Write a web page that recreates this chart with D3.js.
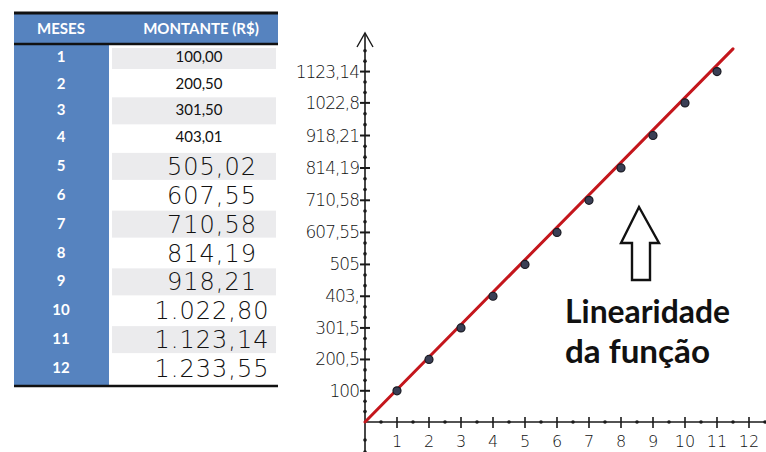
<!DOCTYPE html>
<html>
<head>
<meta charset="utf-8">
<script src="https://d3js.org/d3.v7.min.js"></script>
<style>
  body { margin: 0; background: #fff; }
  svg { display: block; }
</style>
</head>
<body>
<script>
// table data: months and amounts (R$)
const meses = [1, 2, 3, 4, 5, 6, 7, 8, 9, 10, 11, 12];
const montante = [100.00, 200.50, 301.50, 403.01, 505.02, 607.55, 710.58, 814.19, 918.21, 1022.80, 1123.14, 1233.55];
// the way each amount is written in the table (first 4 typed, rest handwritten)
const montanteTexto = ["100,00", "200,50", "301,50", "403,01", "505,02", "607,55", "710,58", "814,19", "918,21", "1.022,80", "1.123,14", "1.233,55"];
const digitados = 4;

// graph: y tick values and their handwritten labels
const yTicks = [100, 200.5, 301.5, 403.01, 505.02, 607.55, 710.58, 814.19, 918.21, 1022.8, 1123.14];
const yTickLabels = ["100", "200,5", "301,5", "403,", "505", "607,55", "710,58", "814,19", "918,21", "1022,8", "1123,14"];
const xTicks = [1, 2, 3, 4, 5, 6, 7, 8, 9, 10, 11, 12];
// plotted points: months 1..11
const pontosMes = [1, 2, 3, 4, 5, 6, 7, 8, 9, 10, 11];
// red trend line (from origin)
const retaMes = [0, 11.5];
const retaValor = [0, 1196];

const W = 766, H = 452;
const svg = d3.select("body").append("svg")
  .attr("width", W).attr("height", H);

// ---------- TABLE ----------
const tLeft = 14, tRight = 278, colSplit = 109, headTop = 13, headBottom = 44, tBottom = 386;
const rowY = d3.scaleLinear().domain([1, 4, 12]).range([57, 137, 368]);
const table = svg.append("g");

// blue months column + header
table.append("rect")
  .attr("x", tLeft).attr("y", headTop)
  .attr("width", colSplit - tLeft).attr("height", tBottom - headTop)
  .attr("fill", "#5683bf");
table.append("rect")
  .attr("x", tLeft).attr("y", headTop)
  .attr("width", tRight - tLeft).attr("height", headBottom - headTop)
  .attr("fill", "#5683bf");

// grey stripes on odd rows
table.selectAll("rect.stripe")
  .data(meses.filter(d => d % 2 === 1))
  .enter().append("rect")
  .attr("class", "stripe")
  .attr("x", colSplit + 3).attr("width", tRight - colSplit - 5)
  .attr("y", d => Math.max(headBottom + 4, rowY(d) - 13))
  .attr("height", d => rowY(d) - 13 < headBottom + 4 ? rowY(d) + 12 - (headBottom + 4) : 27)
  .attr("fill", "#ebebed");

// black rules
table.append("line").attr("x1", tLeft).attr("x2", tRight).attr("y1", headTop).attr("y2", headTop)
  .attr("stroke", "#111").attr("stroke-width", 3);
table.append("line").attr("x1", tLeft).attr("x2", tRight).attr("y1", headBottom).attr("y2", headBottom)
  .attr("stroke", "#111").attr("stroke-width", 2.5);
table.append("line").attr("x1", tLeft).attr("x2", tRight).attr("y1", tBottom).attr("y2", tBottom)
  .attr("stroke", "#111").attr("stroke-width", 2.5);

// header text
table.append("text").attr("x", 61).attr("y", 34).attr("text-anchor", "middle")
  .style("font", "bold 15px Lato, 'Open Sans', sans-serif").attr("fill", "#fff")
  .text("MESES");
table.append("text").attr("x", 201).attr("y", 34).attr("text-anchor", "middle")
  .style("font", "bold 15px Lato, 'Open Sans', sans-serif").attr("fill", "#fff")
  .text("MONTANTE (R$)");

// month numbers
table.selectAll("text.mes")
  .data(meses)
  .enter().append("text")
  .attr("class", "mes")
  .attr("x", 61).attr("y", d => rowY(d) + 5)
  .attr("text-anchor", "middle")
  .style("font", "bold 15px Lato, 'Open Sans', sans-serif")
  .attr("fill", "#fff")
  .text(d => d);

// amounts
table.selectAll("text.valor")
  .data(meses)
  .enter().append("text")
  .attr("class", "valor")
  .attr("x", (d, i) => i < digitados ? 199 : 212)
  .attr("y", (d, i) => rowY(d) + (i < digitados ? 5 : 9))
  .attr("text-anchor", "middle")
  .style("font-family", (d, i) => i < digitados ? "Lato, 'Open Sans', sans-serif" : "'DejaVu Sans', sans-serif")
  .style("font-size", (d, i) => i < digitados ? "15px" : "24px")
  .style("font-weight", (d, i) => i < digitados ? "normal" : "300")
  .style("letter-spacing", (d, i) => i < digitados ? "0px" : "1px")
  .attr("fill", "#111")
  .text((d, i) => montanteTexto[i]);

// ---------- GRAPH ----------
const x = d3.scaleLinear().domain([0, 12]).range([365, 749]);
const y = d3.scaleLinear().domain([0, 1250]).range([422, 32]);
const g = svg.append("g");
const ink = "#1a1a1a";

// y axis line with arrow
g.append("line").attr("x1", x(0)).attr("x2", x(0)).attr("y1", 33).attr("y2", H)
  .attr("stroke", ink).attr("stroke-width", 1.6);
g.append("path")
  .attr("d", `M${x(0) - 8},47 L${x(0)},33 L${x(0) + 8},47`)
  .attr("fill", "none").attr("stroke", ink).attr("stroke-width", 1.4);

// x axis line
g.append("line").attr("x1", x(0)).attr("x2", W).attr("y1", y(0)).attr("y2", y(0))
  .attr("stroke", ink).attr("stroke-width", 1.6);

// y major ticks and labels
g.selectAll("line.ytick").data(yTicks).enter().append("line")
  .attr("class", "ytick")
  .attr("x1", x(0) - 5).attr("x2", x(0) + 5)
  .attr("y1", d => y(d)).attr("y2", d => y(d))
  .attr("stroke", ink).attr("stroke-width", 2);
g.selectAll("text.ylab").data(yTicks).enter().append("text")
  .attr("class", "ylab")
  .attr("x", x(0) - 6).attr("y", d => y(d) + 6)
  .attr("text-anchor", "end")
  .style("font", "300 17px 'DejaVu Sans', sans-serif")
  .style("letter-spacing", "-1px")
  .attr("fill", "#111")
  .text((d, i) => yTickLabels[i]);

// y minor dots: thirds between ticks (including origin and beyond last tick)
const yStops = [0].concat(yTicks);
const yDots = [];
for (let i = 0; i < yStops.length - 1; i++) {
  const a = y(yStops[i]), b = y(yStops[i + 1]);
  yDots.push(a + (b - a) / 3, a + 2 * (b - a) / 3);
}
const lastStep = y(yTicks[yTicks.length - 1]) - y(yTicks[yTicks.length - 2]);
yDots.push(y(yTicks[yTicks.length - 1]) + lastStep / 3, y(yTicks[yTicks.length - 1]) + 2 * lastStep / 3);
yDots.push(y(0) + 18, y(0) + 30);
g.selectAll("circle.ydot").data(yDots).enter().append("circle")
  .attr("class", "ydot")
  .attr("cx", x(0)).attr("cy", d => d).attr("r", 1.8).attr("fill", ink);

// x major ticks, minor dots and labels
g.selectAll("line.xtick").data(xTicks).enter().append("line")
  .attr("class", "xtick")
  .attr("x1", d => x(d)).attr("x2", d => x(d))
  .attr("y1", y(0) - 5).attr("y2", y(0) + 6)
  .attr("stroke", ink).attr("stroke-width", 1.6);
g.selectAll("circle.xdot").data(xTicks.map(d => d - 0.5).concat([12.5])).enter().append("circle")
  .attr("class", "xdot")
  .attr("cx", d => x(d)).attr("cy", y(0)).attr("r", 1.8).attr("fill", ink);
g.selectAll("text.xlab").data(xTicks).enter().append("text")
  .attr("class", "xlab")
  .attr("x", d => x(d)).attr("y", 447)
  .attr("text-anchor", "middle")
  .style("font", "300 16px 'DejaVu Sans', sans-serif")
  .attr("fill", "#111")
  .text(d => d);

// red line
const reta = retaMes.map((m, i) => [m, retaValor[i]]);
g.append("path")
  .datum(reta)
  .attr("d", d3.line().x(d => x(d[0])).y(d => y(d[1])))
  .attr("fill", "none").attr("stroke", "#c4161c").attr("stroke-width", 3)
  .attr("stroke-linecap", "round");

// data points
g.selectAll("circle.ponto").data(pontosMes).enter().append("circle")
  .attr("class", "ponto")
  .attr("cx", d => x(d))
  .attr("cy", d => y(montante[d - 1]))
  .attr("r", 4)
  .attr("fill", "#3a3f55").attr("stroke", "#1a1a22").attr("stroke-width", 1.2);

// annotation: outline arrow + text
g.append("path")
  .attr("d", "M639,207 L659,243 L650,243 L650,280 L632,280 L632,243 L621,243 Z")
  .attr("fill", "#fff").attr("stroke", "#111").attr("stroke-width", 2.4)
  .attr("stroke-linejoin", "miter");
g.append("text").attr("x", 565).attr("y", 323)
  .attr("textLength", 165).attr("lengthAdjust", "spacingAndGlyphs")
  .style("font", "bold 33px Lato, 'Open Sans', sans-serif").attr("fill", "#111")
  .text("Linearidade");
g.append("text").attr("x", 565).attr("y", 363)
  .attr("textLength", 145).attr("lengthAdjust", "spacingAndGlyphs")
  .style("font", "bold 33px Lato, 'Open Sans', sans-serif").attr("fill", "#111")
  .text("da função");
</script>
</body>
</html>
